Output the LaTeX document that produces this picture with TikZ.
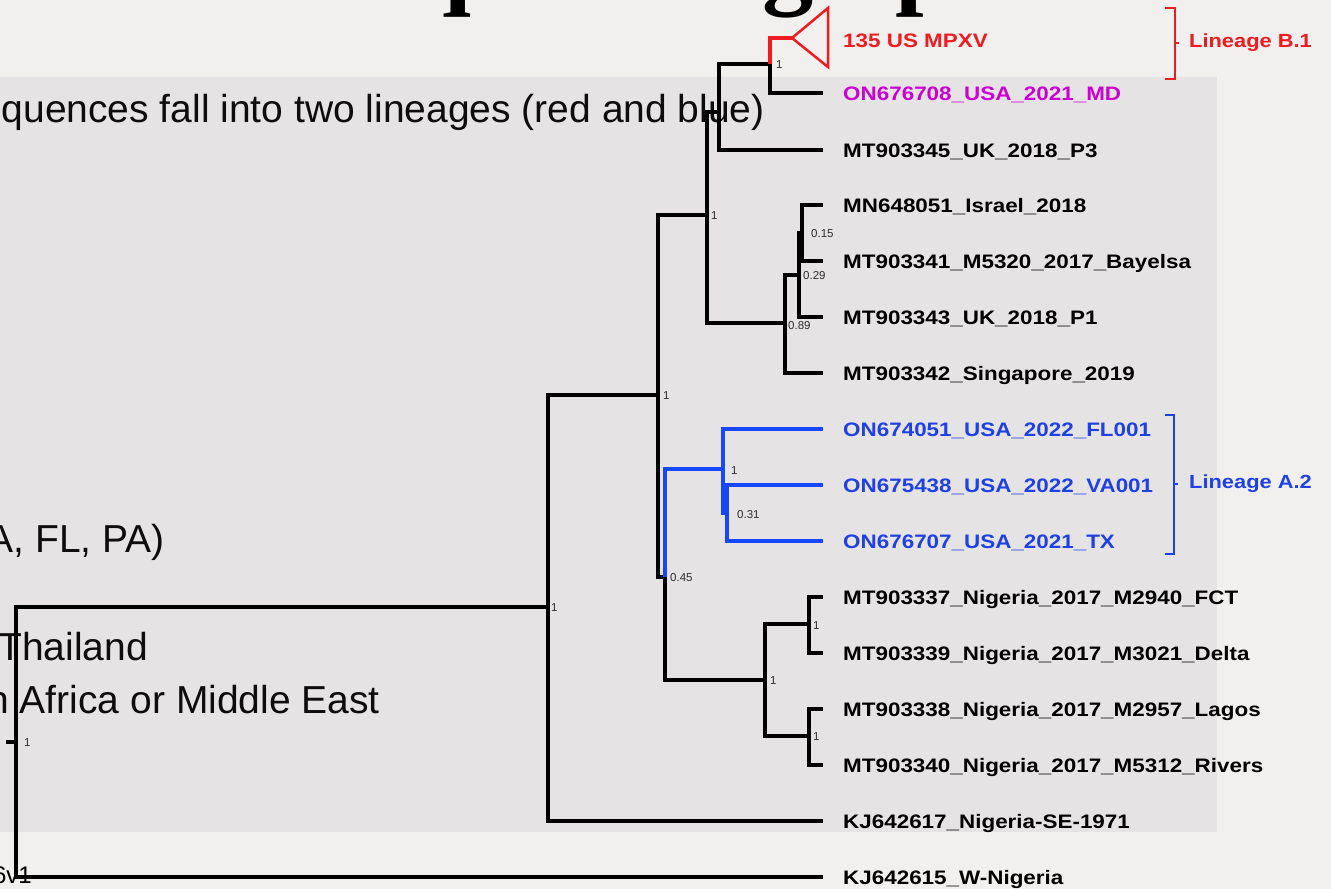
\documentclass[tikz,border=0pt]{standalone}
\usepackage{fontspec}
\setmainfont{Liberation Sans}
\newfontfamily\tlab[FakeStretch=1.15]{Liberation Sans}
\newfontfamily\ttlfont{Liberation Serif}
\definecolor{bgc}{RGB}{242,240,239}
\definecolor{panel}{RGB}{230,227,228}
\definecolor{tred}{RGB}{236,28,32}
\definecolor{tmag}{RGB}{204,0,210}
\definecolor{tblue}{RGB}{22,72,250}
\definecolor{lblue}{RGB}{30,64,228}
\definecolor{bsgray}{RGB}{45,45,45}
\begin{document}
\begin{tikzpicture}[x=1pt,y=-1pt,
  br/.style={line width=3.2pt,line cap=butt},
  tiplab/.style={anchor=base west,inner sep=0pt,font=\tlab\bfseries\fontsize{19.5}{20}\selectfont},
  linlab/.style={anchor=west,inner sep=0pt,font=\tlab\bfseries\fontsize{19}{20}\selectfont},
  bs/.style={anchor=base west,inner sep=0pt,font=\fontsize{11.5}{12}\selectfont,text=bsgray},
  slide/.style={anchor=base east,inner sep=0pt,font=\fontsize{39}{42}\selectfont,text=black!95},
  brk/.style={line width=1.8pt}]
\useasboundingbox (0,0) rectangle (1331,889);
\begin{scope}
\clip (0,0) rectangle (1331,889);
\fill[bgc] (0,0) rectangle (1331,889);
\fill[panel] (0,77) rectangle (1217,832);
\node[anchor=base west,inner sep=0pt,font=\ttlfont\bfseries\fontsize{102.5}{110}\selectfont] (title) at (329,-5) {sequencing update};
\node[slide] (s1) at (765,122) {quences fall into two lineages (red and blue)};
\node[slide] (s2) at (165,552) {A, FL, PA)};
\node[slide] (s3) at (148,660) {Thailand};
\node[slide] (s4) at (380,713) {n Africa or Middle East};
\node[anchor=base east,inner sep=0pt,font=\fontsize{24}{26}\selectfont] (s5) at (32,883) {6v1};
\end{scope}
% internal nodes
\coordinate (rs) at (6,742);
\coordinate (r) at (16,742);
\coordinate (n548) at (548,607);
\coordinate (nA) at (658,395);
\coordinate (nB) at (707,215);
\coordinate (nC) at (719,112);
\coordinate (nR) at (770,64);
\coordinate (apex) at (792,38);
\coordinate (n089) at (785,323);
\coordinate (n029) at (799,275);
\coordinate (n015) at (802,233);
\coordinate (n045) at (665,577);
\coordinate (nBl) at (723,469);
\coordinate (n031) at (727,513);
\coordinate (nNg) at (765,680);
\coordinate (nN1) at (809,624);
\coordinate (nN2) at (809,736);
% tips
\coordinate (t2) at (823,93);
\coordinate (t3) at (823,150);
\coordinate (t4) at (823,205);
\coordinate (t5) at (823,261);
\coordinate (t6) at (823,317);
\coordinate (t7) at (823,373);
\coordinate (t8) at (823,429);
\coordinate (t9) at (823,485);
\coordinate (t10) at (823,541);
\coordinate (t11) at (823,597);
\coordinate (t12) at (823,653);
\coordinate (t13) at (823,709);
\coordinate (t14) at (823,765);
\coordinate (t15) at (823,821);
\coordinate (t16) at (823,877);
% branches
\draw[br] (rs) -- (r);
\draw[br] (r) |- (n548);
\draw[br] (r) |- (t16);
\draw[br] (n548) |- (nA);
\draw[br] (n548) |- (t15);
\draw[br] (nA) |- (nB);
\draw[br] (nA) |- (n045);
\draw[br] (nB) |- (nC);
\draw[br] (nB) |- (n089);
\draw[br] (nC) |- (nR);
\draw[br] (nC) |- (t3);
\draw[br,tred] (nR) |- (apex);
\draw[br] (nR) |- (t2);
\draw[br] (n089) |- (n029);
\draw[br] (n089) |- (t7);
\draw[br] (n029) |- (n015);
\draw[br] (n029) |- (t6);
\draw[br] (n015) |- (t4);
\draw[br] (n015) |- (t5);
\draw[br,tblue] (n045) |- (nBl);
\draw[br] (n045) |- (nNg);
\draw[br,tblue] (nBl) |- (t8);
\draw[br,tblue] (nBl) |- (n031);
\draw[br,tblue] (n031) |- (t9);
\draw[br,tblue] (n031) |- (t10);
\draw[br] (nNg) |- (nN1);
\draw[br] (nNg) |- (nN2);
\draw[br] (nN1) |- (t11);
\draw[br] (nN1) |- (t12);
\draw[br] (nN2) |- (t13);
\draw[br] (nN2) |- (t14);
% collapsed clade
\draw[tred,line width=2.5pt,line join=miter] (apex) -- (828,8) -- (828,67) -- cycle;
% tip labels
\node[tiplab,text=tred] (L1) at (843,47) {135 US MPXV};
\node[tiplab,text=tmag] (L2) at (843,100) {ON676708\_USA\_2021\_MD};
\node[tiplab] (L3) at (843,157) {MT903345\_UK\_2018\_P3};
\node[tiplab] (L4) at (843,212) {MN648051\_Israel\_2018};
\node[tiplab] (L5) at (843,268) {MT903341\_M5320\_2017\_Bayelsa};
\node[tiplab] (L6) at (843,324) {MT903343\_UK\_2018\_P1};
\node[tiplab] (L7) at (843,380) {MT903342\_Singapore\_2019};
\node[tiplab,text=lblue] (L8) at (843,436) {ON674051\_USA\_2022\_FL001};
\node[tiplab,text=lblue] (L9) at (843,492) {ON675438\_USA\_2022\_VA001};
\node[tiplab,text=lblue] (L10) at (843,548) {ON676707\_USA\_2021\_TX};
\node[tiplab] (L11) at (843,604) {MT903337\_Nigeria\_2017\_M2940\_FCT};
\node[tiplab] (L12) at (843,660) {MT903339\_Nigeria\_2017\_M3021\_Delta};
\node[tiplab] (L13) at (843,716) {MT903338\_Nigeria\_2017\_M2957\_Lagos};
\node[tiplab] (L14) at (843,772) {MT903340\_Nigeria\_2017\_M5312\_Rivers};
\node[tiplab] (L15) at (843,828) {KJ642617\_Nigeria-SE-1971};
\node[tiplab] (L16) at (843,884) {KJ642615\_W-Nigeria};
% support values
\node[bs] (b1) at (776,68) {1};
\node[bs] (b2) at (711,219) {1};
\node[bs] (b3) at (811,237) {0.15};
\node[bs] (b4) at (803,279) {0.29};
\node[bs] (b5) at (788,329) {0.89};
\node[bs] (b6) at (663,399) {1};
\node[bs] (b7) at (731,474) {1};
\node[bs] (b8) at (737,518) {0.31};
\node[bs] (b9) at (670,581) {0.45};
\node[bs] (b10) at (813,629) {1};
\node[bs] (b11) at (770,684) {1};
\node[bs] (b12) at (813,740) {1};
\node[bs] (b13) at (551,611) {1};
\node[bs] (b14) at (24,746) {1};
% lineage brackets
\draw[brk,tred] (1165,8) -- (1175,8) -- (1175,79) -- (1165,79);
\draw[brk,tred] (1175,43) -- (1179,43);
\node[linlab,text=tred] (LB) at (1189,43) {Lineage B.1};
\draw[brk,lblue] (1165,415) -- (1174,415) -- (1174,554) -- (1165,554);
\draw[brk,lblue] (1174,484) -- (1178,484);
\node[linlab,text=lblue] (LA) at (1189,484) {Lineage A.2};
\end{tikzpicture}
\end{document}
